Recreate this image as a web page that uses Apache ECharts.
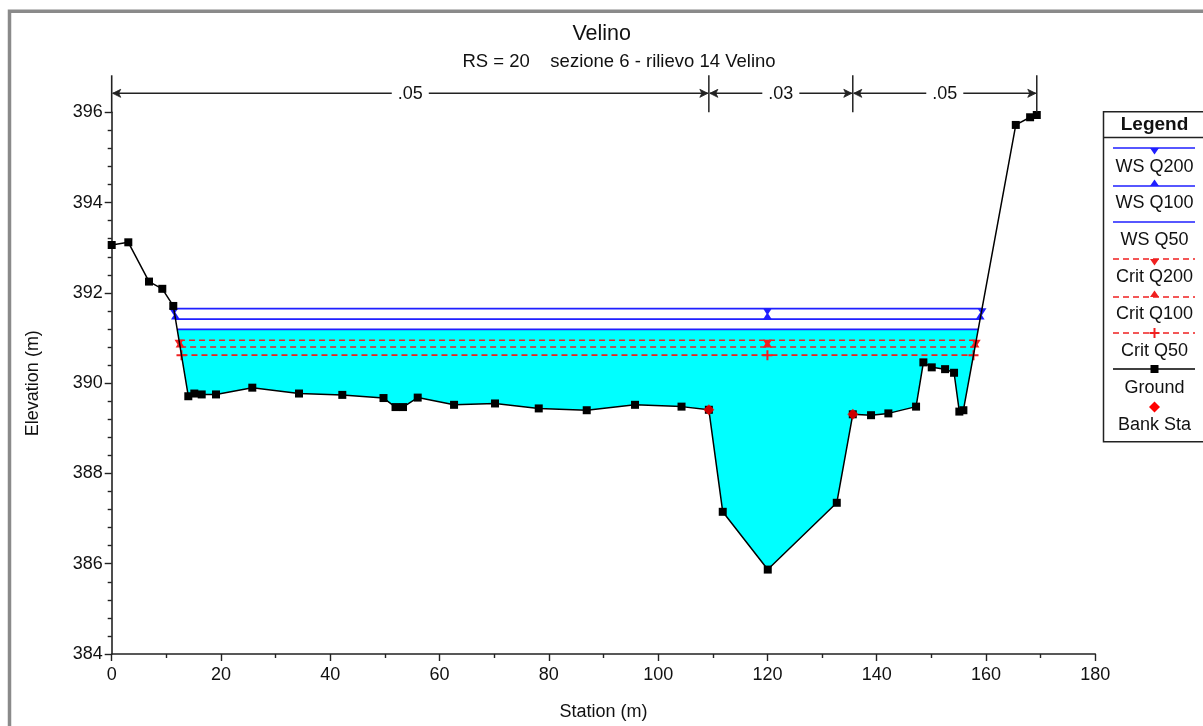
<!DOCTYPE html>
<html><head><meta charset="utf-8">
<script src="https://cdn.jsdelivr.net/npm/echarts@6/dist/echarts.min.js"></script>
<style>html,body{margin:0;padding:0;background:#fff}#c{width:1203px;height:726px}</style>
</head><body><div id="c"></div>
<script>
// ---- data ----
const groundStation = [0, 3.04, 6.83, 9.26, 11.27, 14.02, 15.12, 16.47, 19.09, 25.73, 34.28, 42.20, 49.74, 51.94, 53.31, 56.00, 62.65, 70.15, 78.15, 86.93, 95.77, 104.28, 109.28, 111.82, 120.06, 132.69, 135.62, 138.96, 142.13, 147.20, 148.54, 150.07, 152.51, 154.15, 155.12, 155.86, 165.45, 168.07, 169.29];
const groundElev    = [393.06, 393.12, 392.25, 392.09, 391.71, 389.71, 389.77, 389.75, 389.75, 389.90, 389.77, 389.74, 389.67, 389.47, 389.47, 389.68, 389.52, 389.55, 389.44, 389.40, 389.52, 389.48, 389.41, 387.15, 385.87, 387.35, 389.31, 389.29, 389.33, 389.48, 390.46, 390.35, 390.31, 390.23, 389.37, 389.40, 395.72, 395.89, 395.94];
const bankStation = [109.28, 135.62];
const bankElev    = [389.41, 389.31];
const profileNames = ['WS Q200', 'WS Q100', 'WS Q50', 'Crit Q200', 'Crit Q100', 'Crit Q50'];
const profileElev  = [391.65, 391.42, 391.19, 390.95, 390.80, 390.62];
const profileLeft  = [11.35, 11.67, 11.99, 12.32, 12.52, 12.77];
const profileRight = [159.27, 158.92, 158.58, 158.21, 157.98, 157.71];
const profileMid   = [120, 120, 120, 120, 120, 120];
const nBounds = [0, 109.28, 135.62, 169.29];
const nValues = ['.05', '.03', '.05'];
const nArrowElev = 396.42;
const xTickValues = [0, 20, 40, 60, 80, 100, 120, 140, 160, 180];
const yTickValues = [384, 386, 388, 390, 392, 394, 396];

// ---- styles ----
const FONT = '"Liberation Sans", Arial, sans-serif';
const BLUE = '#1f1fff', RED = '#f02020', AX = '#222';
const DOWN = 'path://M0,0L10,0L5,8Z';
const UP = 'path://M5,0L10,8L0,8Z';
const PLUS = 'path://M4,0L6,0L6,4L10,4L10,6L6,6L6,10L4,10L4,6L0,6L0,4L4,4Z';
const profStyle = [
  {color: BLUE, type: 'solid', symbol: DOWN, size: [9, 7], off: [0, 3]},
  {color: BLUE, type: 'solid', symbol: UP, size: [9, 7], off: [0, -3]},
  {color: BLUE, type: 'solid', symbol: 'none', size: 0, off: [0, 0]},
  {color: RED, type: [6, 4], symbol: DOWN, size: [9, 7], off: [0, 3]},
  {color: RED, type: [6, 4], symbol: UP, size: [9, 7], off: [0, -3]},
  {color: RED, type: [6, 4], symbol: PLUS, size: [10, 10], off: [0, 0]}
];

const ground = groundStation.map((s, i) => [s, groundElev[i]]);
const banks = bankStation.map((s, i) => [s, bankElev[i]]);

// water fill polygon: WS Q50 surface down to ground
const fillIdx = 2;
const fillPoly = [[profileLeft[fillIdx], profileElev[fillIdx]]]
  .concat(ground.filter(p => p[0] > profileLeft[fillIdx] && p[0] < profileRight[fillIdx]))
  .concat([[profileRight[fillIdx], profileElev[fillIdx]]]);

const series = [];
series.push({
  type: 'custom', z: 1, silent: true, data: [[0, 384]],
  renderItem: (params, api) => ({
    type: 'polygon',
    shape: {points: fillPoly.map(p => api.coord(p))},
    style: {fill: '#00ffff'}
  })
});
profileNames.forEach((n, i) => {
  const st = profStyle[i];
  series.push({
    name: n, type: 'line', z: 3, silent: true,
    data: [[profileLeft[i], profileElev[i]], [profileMid[i], profileElev[i]], [profileRight[i], profileElev[i]]],
    lineStyle: {color: st.color, width: i < 3 ? 1.8 : 1.6, type: st.type},
    itemStyle: {color: st.color, borderWidth: 0},
    symbol: st.symbol, symbolSize: st.size, symbolOffset: st.off, showSymbol: true,
    emphasis: {disabled: true}
  });
});
series.push({
  name: 'Ground', type: 'line', z: 4, silent: true, data: ground,
  lineStyle: {color: '#000', width: 1.5},
  itemStyle: {color: '#000', borderWidth: 0},
  symbol: 'rect', symbolSize: 8, showSymbol: true, emphasis: {disabled: true}
});
series.push({
  name: 'Bank Sta', type: 'scatter', z: 5, silent: true, data: banks,
  itemStyle: {color: '#ff0000'}, symbol: 'diamond', symbolSize: [11, 11],
  emphasis: {disabled: true}
});
// Manning's n annotation + y axis extension
series.push({
  type: 'custom', z: 6, silent: true, clip: false, data: [[0, 396]],
  renderItem: (params, api) => {
    const ch = [];
    const yTop = 396.82, yBot = 396.0;
    const a = api.coord([0, 396]), b = api.coord([0, yTop]);
    ch.push({type: 'line', shape: {x1: a[0], y1: a[1], x2: b[0], y2: b[1]}, style: {stroke: AX, lineWidth: 1.6}});
    for (let k = 1; k < nBounds.length; k++) {
      const p = api.coord([nBounds[k], yBot]), q = api.coord([nBounds[k], yTop]);
      ch.push({type: 'line', shape: {x1: p[0], y1: p[1], x2: q[0], y2: q[1]}, style: {stroke: AX, lineWidth: 1.5}});
    }
    for (let i = 0; i < nValues.length; i++) {
      const p0 = api.coord([nBounds[i], nArrowElev]), p1 = api.coord([nBounds[i + 1], nArrowElev]);
      const y = p0[1], x0 = p0[0] + 1, x1 = p1[0] - 1;
      ch.push({type: 'line', shape: {x1: x0, y1: y, x2: x1, y2: y}, style: {stroke: AX, lineWidth: 1.5}});
      ch.push({type: 'polygon', shape: {points: [[x0, y], [x0 + 8, y - 4], [x0 + 6, y], [x0 + 8, y + 4]]}, style: {fill: AX, stroke: AX, lineWidth: 0.8}});
      ch.push({type: 'polygon', shape: {points: [[x1, y], [x1 - 8, y - 4], [x1 - 6, y], [x1 - 8, y + 4]]}, style: {fill: AX, stroke: AX, lineWidth: 0.8}});
      ch.push({type: 'text', x: (x0 + x1) / 2, y: y + 1, style: {text: nValues[i], fontSize: 18, fontFamily: FONT, fill: '#111', align: 'center', verticalAlign: 'middle', backgroundColor: '#fff', padding: [0, 6]}});
    }
    return {type: 'group', children: ch};
  }
});

// ---- legend drawn as graphics ----
const LX = 1103.5, LY = 111.7, LC = 1154.5, LL = 1113, LR = 1195;
const legendLineY = [148, 186, 222, 259, 297, 333, 369];
const legendTextY = [167, 203.5, 240, 277, 314, 351, 388];
const g = [];
g.push({type: 'rect', shape: {x: 9.5, y: 11.2, width: 1400, height: 900}, style: {fill: 'none', stroke: '#8a8a8a', lineWidth: 3.5}, silent: true});
g.push({type: 'rect', shape: {x: LX, y: LY, width: 200, height: 330}, style: {fill: '#fff', stroke: AX, lineWidth: 1.5}, z: 10});
g.push({type: 'line', shape: {x1: LX, y1: 137.5, x2: LX + 200, y2: 137.5}, style: {stroke: AX, lineWidth: 1.3}, z: 10});
g.push({type: 'text', x: LC, y: 124.5, style: {text: 'Legend', font: 'bold 19px ' + FONT, fill: '#111', align: 'center', verticalAlign: 'middle'}, z: 11});
const legItems = profileNames.concat(['Ground']);
legItems.forEach((n, i) => {
  const ly = legendLineY[i];
  const st = i < 6 ? profStyle[i] : {color: '#000', type: 'solid'};
  g.push({type: 'line', shape: {x1: LL, y1: ly, x2: LR, y2: ly}, style: {stroke: st.color, lineWidth: 1.5, lineDash: st.type === 'solid' ? null : st.type}, z: 11});
  let mk = null;
  if (i === 0 || i === 3) mk = [[LC - 4.5, ly], [LC + 4.5, ly], [LC, ly + 6.5]];
  if (i === 1 || i === 4) mk = [[LC - 4.5, ly], [LC + 4.5, ly], [LC, ly - 6.5]];
  if (mk) g.push({type: 'polygon', shape: {points: mk}, style: {fill: st.color}, z: 12});
  if (i === 5) {
    g.push({type: 'rect', shape: {x: LC - 5, y: ly - 1, width: 10, height: 2}, style: {fill: RED}, z: 12});
    g.push({type: 'rect', shape: {x: LC - 1, y: ly - 5, width: 2, height: 10}, style: {fill: RED}, z: 12});
  }
  if (i === 6) g.push({type: 'rect', shape: {x: LC - 4, y: ly - 4, width: 8, height: 8}, style: {fill: '#000'}, z: 12});
  g.push({type: 'text', x: LC, y: legendTextY[i], style: {text: n, fontSize: 18, fontFamily: FONT, fill: '#111', align: 'center', verticalAlign: 'middle'}, z: 11});
});
g.push({type: 'polygon', shape: {points: [[LC, 401.5], [LC + 5.5, 407], [LC, 412.5], [LC - 5.5, 407]]}, style: {fill: '#ff0000'}, z: 12});
g.push({type: 'text', x: LC, y: 425, style: {text: 'Bank Sta', fontSize: 18, fontFamily: FONT, fill: '#111', align: 'center', verticalAlign: 'middle'}, z: 11});
// titles
g.push({type: 'text', x: 601.7, y: 34, style: {text: 'Velino', fontSize: 21.5, fontFamily: FONT, fill: '#111', align: 'center', verticalAlign: 'middle'}});
g.push({type: 'text', x: 619, y: 61.5, style: {text: 'RS = 20    sezione 6 - rilievo 14 Velino', fontSize: 18.5, fontFamily: FONT, fill: '#111', align: 'center', verticalAlign: 'middle'}});

const axisCommon = {
  axisLine: {onZero: false, lineStyle: {color: AX, width: 1.6}},
  axisTick: {length: 7, lineStyle: {color: AX, width: 1.4}},
  minorTick: {show: true, length: 4, lineStyle: {color: AX, width: 1.4}},
  splitLine: {show: false}, minorSplitLine: {show: false},
  nameTextStyle: {fontSize: 18, fontFamily: FONT, color: '#111'}
};
const chart = echarts.init(document.getElementById('c'), null, {renderer: 'canvas'});
chart.setOption({
  animation: false,
  backgroundColor: '#fff',
  grid: {left: 111.7, right: 107.7, top: 112.3, bottom: 67.7, containLabel: false},
  xAxis: Object.assign({}, axisCommon, {
    type: 'value', min: xTickValues[0], max: xTickValues[xTickValues.length - 1], interval: 20,
    minorTick: Object.assign({}, axisCommon.minorTick, {splitNumber: 2}),
    axisLabel: {fontSize: 18, fontFamily: FONT, color: '#111', margin: 12},
    name: 'Station (m)', nameLocation: 'middle', nameGap: 49
  }),
  yAxis: Object.assign({}, axisCommon, {
    type: 'value', min: yTickValues[0], max: yTickValues[yTickValues.length - 1], interval: 2,
    minorTick: Object.assign({}, axisCommon.minorTick, {splitNumber: 5}),
    axisLabel: {fontSize: 18, fontFamily: FONT, color: '#111', margin: 9},
    name: 'Elevation (m)', nameLocation: 'middle', nameGap: 70, nameRotate: 90
  }),
  series: series,
  graphic: g
});
</script></body></html>
